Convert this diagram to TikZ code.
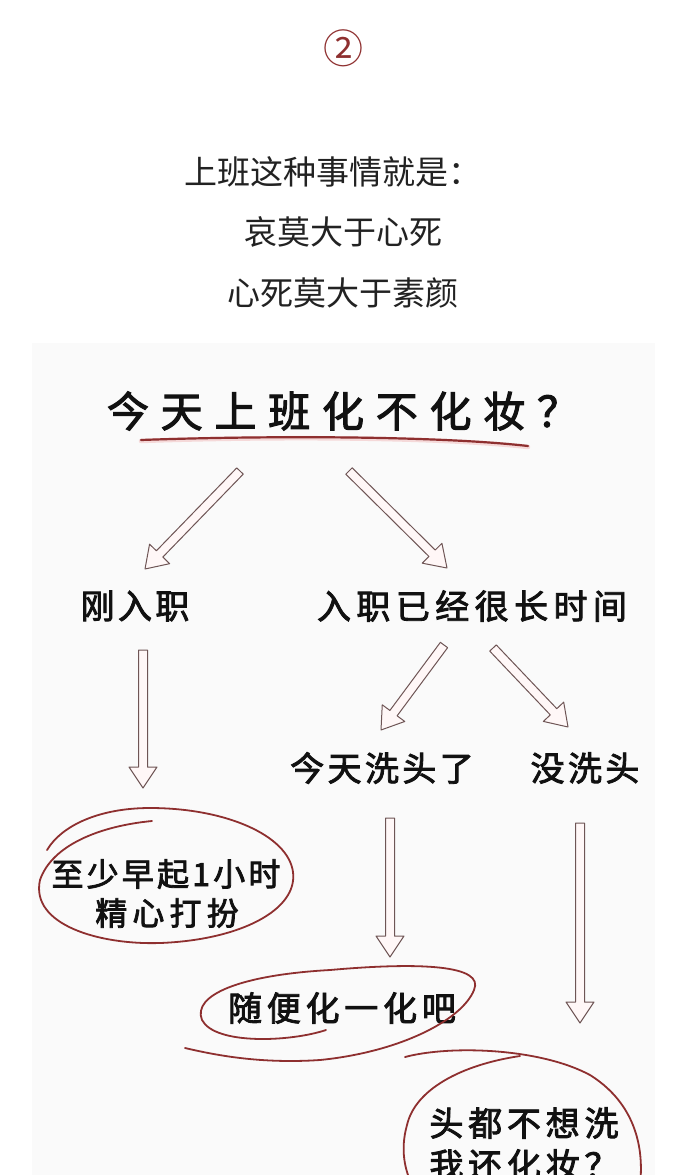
\documentclass[tikz,border=0pt]{standalone}
\usepackage{fontspec}
\usetikzlibrary{calc}
\newfontfamily\cjk{Noto Sans CJK SC}
\newfontfamily\hand[FakeBold=2.5]{Noto Sans CJK SC}
\definecolor{ink}{HTML}{222222}
\definecolor{handink}{HTML}{111111}
\definecolor{redink}{HTML}{8E2F2F}
\definecolor{redhalo}{HTML}{F2C4C4}
\definecolor{arrowline}{HTML}{6E5555}
\definecolor{arrowfill}{HTML}{FFF7F7}
\definecolor{panel}{HTML}{FAFAFA}
\tikzset{
  printed/.style={font=\cjk\fontsize{33}{33}\selectfont, text=ink, inner sep=0pt},
  handtxt/.style n args={2}{font=\hand\fontsize{#1}{#1}\selectfont\addfontfeature{LetterSpace=#2}, text=handink, inner sep=0pt},
  blockarrow/.style={draw=arrowline, fill=arrowfill, line width=1pt, line join=round},
  redstroke/.style={draw=redink, line width=1.8pt, line cap=round, line join=round},
  halo/.style={draw=redhalo, line width=4.5pt, line cap=round, opacity=0.6},
}
\newcommand\harrow[2]{%
  \coordinate (hb) at ($(#2)!21pt!(#1)$);
  \draw[blockarrow] ($(#1)!4.5pt!90:(#2)$) -- ($(hb)!4.5pt!90:(#2)$) -- ($(hb)!14pt!90:(#2)$)
    -- (#2) -- ($(hb)!14pt!-90:(#2)$) -- ($(hb)!4.5pt!-90:(#2)$) -- ($(#1)!4.5pt!-90:(#2)$) -- cycle;
}
\begin{document}
\begin{tikzpicture}[x=1pt, y=-1pt]
\useasboundingbox (0,0) rectangle (690,1175);
\clip (0,0) rectangle (690,1175);
\fill[white] (0,0) rectangle (690,1175);
\fill[panel] (32,343) rectangle (655,1180);

% header
\node[font=\cjk\fontsize{40}{40}\selectfont, text=redink, inner sep=0pt] (num) at (343,48) {②};
\node[printed] (l1) at (333,172) {上班这种事情就是：};
\node[printed] (l2) at (343,232) {哀莫大于心死};
\node[printed] (l3) at (343,293) {心死莫大于素颜};

% question
\node[handtxt={42}{28}] (q) at (343,411) {今天上班化不化妆？};
\draw[halo] (141,441) .. controls (250,437) and (430,436) .. (528,447);
\draw[redink, line width=2.2pt, line cap=round] (141,440) .. controls (250,436) and (430,435) .. (528,446);

% level 2
\node[handtxt={34}{10}] (new) at (135,606) {刚入职};
\node[handtxt={34}{16}] (old) at (472,606) {入职已经很长时间};

% level 3
\node[handtxt={34}{10}] (wash) at (382,768) {今天洗头了};
\node[handtxt={34}{10}] (nowash) at (585,768) {没洗头};

% outcomes
\node[handtxt={32}{10}] (r1a) at (166,874) {至少早起1小时};
\node[handtxt={32}{16}] (r1b) at (167,913) {精心打扮};
\node[handtxt={34}{14}] (r2) at (342,1008) {随便化一化吧};
\node[handtxt={34}{14}] (r3a) at (524,1123) {头都不想洗};
\node[handtxt={34}{14}] (r3b) at (524,1165) {我还化妆？};

% arrow end points
\coordinate (a1t) at (240,471); \coordinate (a1h) at (145,569);
\coordinate (a2t) at (349,471); \coordinate (a2h) at (447,568);
\coordinate (a3t) at (143,650); \coordinate (a3h) at (143,788);
\coordinate (a4t) at (444,645); \coordinate (a4h) at (381,730);
\coordinate (a5t) at (493,648); \coordinate (a5h) at (568,727);
\coordinate (a6t) at (390,818); \coordinate (a6h) at (390,957);
\coordinate (a7t) at (580,823); \coordinate (a7h) at (580,1023);
\harrow{a1t}{a1h}
\harrow{a2t}{a2h}
\harrow{a3t}{a3h}
\harrow{a4t}{a4h}
\harrow{a5t}{a5h}
\harrow{a6t}{a6h}
\harrow{a7t}{a7h}

% hand-drawn loops
\draw[redstroke] (152,821) .. controls (100,826) and (52,845) .. (40,880)
  .. controls (30,925) and (100,945) .. (160,943)
  .. controls (240,940) and (298,910) .. (293,872)
  .. controls (288,835) and (225,808) .. (150,808)
  .. controls (100,808) and (62,825) .. (47,850);
\draw[redstroke] (326,1030) .. controls (290,1042) and (215,1045) .. (202,1020)
  .. controls (192,995) and (240,975) .. (330,970)
  .. controls (420,962) and (485,965) .. (474,990)
  .. controls (462,1020) and (400,1052) .. (320,1060)
  .. controls (260,1064) and (215,1055) .. (185,1048);
\draw[redstroke] (405,1057) .. controls (450,1045) and (540,1048) .. (590,1075)
  .. controls (630,1100) and (645,1140) .. (640,1185);
\draw[redstroke] (520,1056) .. controls (460,1065) and (415,1090) .. (407,1125)
  .. controls (400,1150) and (405,1170) .. (412,1185);
\end{tikzpicture}
\end{document}
